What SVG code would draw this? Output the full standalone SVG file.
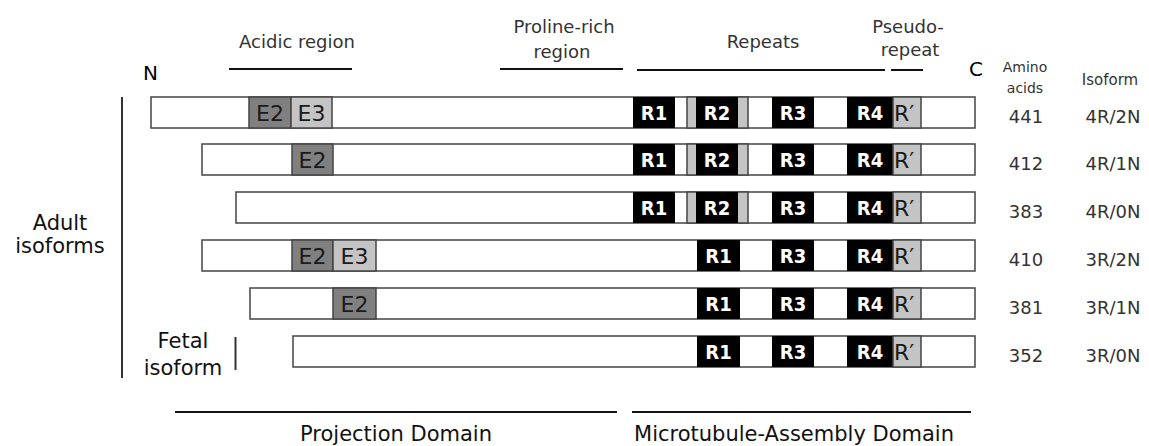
<svg xmlns="http://www.w3.org/2000/svg" width="1149" height="446" viewBox="0 0 1149 446">
  <style>
    .bar{fill:#fff;stroke:#444;stroke-width:1.5}
    .e2{fill:#808080;stroke:#444;stroke-width:1.5}
    .lt{fill:#c4c4c4;stroke:#444;stroke-width:1.5}
    .rep{fill:#000}
    .lbl{font-family:"DejaVu Sans",sans-serif;font-size:22px;fill:#1a1a1a;text-anchor:middle}
    .rl{font-family:"DejaVu Sans Condensed","DejaVu Sans",sans-serif;font-weight:bold;font-size:20px;fill:#fff;text-anchor:middle}
    .rp{font-family:"DejaVu Sans",sans-serif;font-size:22px;fill:#1a1a1a}
    .hd{font-family:"DejaVu Sans",sans-serif;font-size:18px;fill:#333;text-anchor:middle}
    .sm{font-family:"DejaVu Sans",sans-serif;font-size:14px;fill:#333;text-anchor:middle}
    .num{font-family:"DejaVu Sans",sans-serif;font-size:18px;fill:#333;text-anchor:middle}
    .big{font-family:"DejaVu Sans",sans-serif;font-size:21px;fill:#111;text-anchor:middle}
    .end{font-family:"DejaVu Sans",sans-serif;font-size:20px;fill:#000}
    .ln{stroke:#111;stroke-width:2;fill:none}
  </style>

  <!-- region headings -->
  <g id="headings">
    <text class="end" x="143" y="80">N</text>
    <text class="end" x="969" y="76">C</text>
    <text class="hd" x="297" y="48">Acidic region</text>
    <text class="hd" x="564" y="33">Proline-rich</text>
    <text class="hd" x="562" y="58">region</text>
    <text class="hd" x="763" y="48">Repeats</text>
    <text class="hd" x="908" y="33">Pseudo-</text>
    <text class="hd" x="910" y="56">repeat</text>
    <text class="sm" x="1025" y="72">Amino</text>
    <text class="sm" x="1025" y="93">acids</text>
    <text class="sm" x="1110" y="85" style="font-size:15px">Isoform</text>
  </g>

  <!-- bracket lines for regions, domains and isoform groups -->
  <g id="connectors">
    <line class="ln" x1="229" y1="69" x2="352" y2="69"/>
    <line class="ln" x1="500" y1="69" x2="623" y2="69"/>
    <line class="ln" x1="637" y1="70" x2="885" y2="70"/>
    <line class="ln" x1="891" y1="70" x2="923" y2="70"/>
    <line class="ln" x1="122" y1="97" x2="122" y2="378" style="stroke:#333"/>
    <line class="ln" x1="235.5" y1="337" x2="235.5" y2="370" style="stroke:#333"/>
    <line class="ln" x1="175" y1="412" x2="617" y2="412"/>
    <line class="ln" x1="632" y1="412" x2="971" y2="412"/>
  </g>

  <!-- group labels -->
  <g id="group-labels">
    <text class="big" x="60" y="230">Adult</text>
    <text class="big" x="60" y="253">isoforms</text>
    <text class="big" x="183" y="348">Fetal</text>
    <text class="big" x="183" y="375">isoform</text>
    <text class="big" x="396" y="441">Projection Domain</text>
    <text class="big" x="794" y="441">Microtubule-Assembly Domain</text>
  </g>

  <!-- 441 aa, 4R/2N -->
  <g id="iso-4R2N">
    <rect class="bar" x="151" y="97" width="824" height="31"/>
    <rect class="e2" x="249" y="97" width="42" height="31"/>
    <rect class="lt" x="291" y="97" width="41" height="31"/>
    <text class="lbl" x="270" y="121">E2</text>
    <text class="lbl" x="311.5" y="121">E3</text>
    <rect class="rep" x="633" y="97" width="42" height="31"/>
    <rect class="lt" x="687" y="97" width="61" height="31"/>
    <rect class="rep" x="696" y="97" width="42" height="31"/>
    <rect class="rep" x="772" y="97" width="42" height="31"/>
    <rect class="rep" x="847" y="97" width="46" height="31"/>
    <rect class="lt" x="893" y="97" width="28" height="31"/>
    <text class="rl" x="654" y="120">R1</text>
    <text class="rl" x="717" y="120">R2</text>
    <text class="rl" x="793" y="120">R3</text>
    <text class="rl" x="870" y="120">R4</text>
    <text class="rp" x="894" y="121">R′</text>
    <text class="num" x="1026" y="123">441</text>
    <text class="num" x="1113" y="123">4R/2N</text>
  </g>

  <!-- 412 aa, 4R/1N -->
  <g id="iso-4R1N">
    <rect class="bar" x="202" y="144" width="773" height="31"/>
    <rect class="e2" x="292" y="144" width="41" height="31"/>
    <text class="lbl" x="312.5" y="168">E2</text>
    <rect class="rep" x="633" y="144" width="42" height="31"/>
    <rect class="lt" x="687" y="144" width="61" height="31"/>
    <rect class="rep" x="696" y="144" width="42" height="31"/>
    <rect class="rep" x="772" y="144" width="42" height="31"/>
    <rect class="rep" x="847" y="144" width="46" height="31"/>
    <rect class="lt" x="893" y="144" width="28" height="31"/>
    <text class="rl" x="654" y="167">R1</text>
    <text class="rl" x="717" y="167">R2</text>
    <text class="rl" x="793" y="167">R3</text>
    <text class="rl" x="870" y="167">R4</text>
    <text class="rp" x="894" y="168">R′</text>
    <text class="num" x="1026" y="170">412</text>
    <text class="num" x="1113" y="170">4R/1N</text>
  </g>

  <!-- 383 aa, 4R/0N -->
  <g id="iso-4R0N">
    <rect class="bar" x="236" y="192" width="739" height="31"/>
    <rect class="rep" x="633" y="192" width="42" height="31"/>
    <rect class="lt" x="687" y="192" width="61" height="31"/>
    <rect class="rep" x="696" y="192" width="42" height="31"/>
    <rect class="rep" x="772" y="192" width="42" height="31"/>
    <rect class="rep" x="847" y="192" width="46" height="31"/>
    <rect class="lt" x="893" y="192" width="28" height="31"/>
    <text class="rl" x="654" y="215">R1</text>
    <text class="rl" x="717" y="215">R2</text>
    <text class="rl" x="793" y="215">R3</text>
    <text class="rl" x="870" y="215">R4</text>
    <text class="rp" x="894" y="216">R′</text>
    <text class="num" x="1026" y="218">383</text>
    <text class="num" x="1113" y="218">4R/0N</text>
  </g>

  <!-- 410 aa, 3R/2N -->
  <g id="iso-3R2N">
    <rect class="bar" x="202" y="240" width="773" height="31"/>
    <rect class="e2" x="292" y="240" width="41" height="31"/>
    <rect class="lt" x="333" y="240" width="43" height="31"/>
    <text class="lbl" x="312.5" y="264">E2</text>
    <text class="lbl" x="354.5" y="264">E3</text>
    <rect class="rep" x="697" y="240" width="43" height="31"/>
    <rect class="rep" x="772" y="240" width="42" height="31"/>
    <rect class="rep" x="847" y="240" width="46" height="31"/>
    <rect class="lt" x="893" y="240" width="28" height="31"/>
    <text class="rl" x="718.5" y="263">R1</text>
    <text class="rl" x="793" y="263">R3</text>
    <text class="rl" x="870" y="263">R4</text>
    <text class="rp" x="894" y="264">R′</text>
    <text class="num" x="1026" y="266">410</text>
    <text class="num" x="1113" y="266">3R/2N</text>
  </g>

  <!-- 381 aa, 3R/1N -->
  <g id="iso-3R1N">
    <rect class="bar" x="250" y="288" width="725" height="31"/>
    <rect class="e2" x="333" y="288" width="43" height="31"/>
    <text class="lbl" x="354.5" y="312">E2</text>
    <rect class="rep" x="697" y="288" width="43" height="31"/>
    <rect class="rep" x="772" y="288" width="42" height="31"/>
    <rect class="rep" x="847" y="288" width="46" height="31"/>
    <rect class="lt" x="893" y="288" width="28" height="31"/>
    <text class="rl" x="718.5" y="311">R1</text>
    <text class="rl" x="793" y="311">R3</text>
    <text class="rl" x="870" y="311">R4</text>
    <text class="rp" x="894" y="312">R′</text>
    <text class="num" x="1026" y="314">381</text>
    <text class="num" x="1113" y="314">3R/1N</text>
  </g>

  <!-- 352 aa, 3R/0N (fetal) -->
  <g id="iso-3R0N">
    <rect class="bar" x="293" y="336" width="682" height="31"/>
    <rect class="rep" x="697" y="336" width="43" height="31"/>
    <rect class="rep" x="772" y="336" width="42" height="31"/>
    <rect class="rep" x="847" y="336" width="46" height="31"/>
    <rect class="lt" x="893" y="336" width="28" height="31"/>
    <text class="rl" x="718.5" y="359">R1</text>
    <text class="rl" x="793" y="359">R3</text>
    <text class="rl" x="870" y="359">R4</text>
    <text class="rp" x="894" y="360">R′</text>
    <text class="num" x="1026" y="362">352</text>
    <text class="num" x="1113" y="362">3R/0N</text>
  </g>
</svg>
